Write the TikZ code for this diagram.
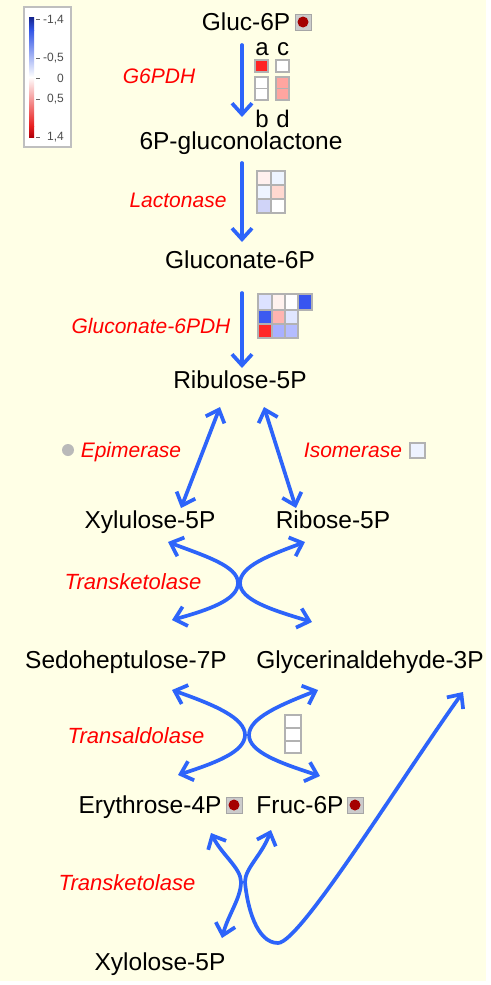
\documentclass[tikz,border=0pt]{standalone}
\usepackage{fontspec}
\setmainfont{Liberation Sans}
\usetikzlibrary{arrows.meta}
\definecolor{bgy}{RGB}{255,255,230}
\definecolor{arrb}{RGB}{45,100,250}
\definecolor{dred}{RGB}{165,0,0}
\definecolor{cellg}{RGB}{178,178,178}
\newcommand\hmcell[5]{\filldraw[fill=#5,draw=cellg,line width=1.4pt] (#1,#2) rectangle (#3,#4);}
\begin{document}
\begin{tikzpicture}[x=1pt,y=-1pt,
  >={Straight Barb[length=11pt,width=20pt]},
  met/.style={font=\fontsize{24.5}{28}\selectfont,inner sep=0pt,text height=17pt,text depth=0pt},
  enz/.style={font=\fontsize{21}{25}\selectfont\itshape,text=red,inner sep=0pt,text height=15pt,text depth=0pt},
  enzb/.style={enz,font=\fontsize{22}{26}\selectfont\itshape},
  flow/.style={draw=arrb,line width=3.7pt,line cap=round},
  metsq/.style={draw=gray!70,fill=gray!40,line width=1pt,minimum size=16pt,inner sep=0pt},
  letr/.style={font=\fontsize{24}{28}\selectfont,inner sep=0pt,anchor=base},
  legl/.style={font=\fontsize{12}{14}\selectfont,text=black!70,inner sep=0pt,anchor=east}]
\useasboundingbox (0,0) rectangle (490,985);
\fill[white] (0,0) rectangle (490,985);
\fill[bgy] (0,0) rectangle (486,981);

% legend
\filldraw[fill=white,draw=gray!50,line width=1.2pt] (24,7) rectangle (71,147);
\shade[top color={rgb,255:red,20;green,35;blue,140},bottom color={rgb,255:red,50;green,85;blue,230}] (29,17) rectangle (34,30);
\shade[top color={rgb,255:red,50;green,85;blue,230},bottom color=white] (29,30) rectangle (34,77);
\shade[top color=white,bottom color={rgb,255:red,232;green,30;blue,30}] (29,77) rectangle (34,126);
\shade[top color={rgb,255:red,232;green,30;blue,30},bottom color={rgb,255:red,175;green,0;blue,10}] (29,126) rectangle (34,137);
\foreach \yy in {19,58,78,99,137} {\draw[black!60,line width=0.8pt] (36,\yy) -- (40,\yy);}
\node[legl] (lg1) at (64,20) {-1,4};
\node[legl] (lg2) at (64,58) {-0,5};
\node[legl] (lg3) at (64,78) {0};
\node[legl] (lg4) at (64,99) {0,5};
\node[legl] (lg5) at (64,137) {1,4};

% metabolites
\node[met] (gluc) at (246,22) {Gluc-6P};
\node[met] (glac) at (241,141) {6P-gluconolactone};
\node[met] (gnt) at (240,260) {Gluconate-6P};
\node[met] (ru5p) at (240,380) {Ribulose-5P};
\node[met] (xu5p) at (150,520) {Xylulose-5P};
\node[met] (r5p) at (333,520) {Ribose-5P};
\node[met] (s7p) at (126,660) {Sedoheptulose-7P};
\node[met] (gap) at (370,660) {Glycerinaldehyde-3P};
\node[met] (e4p) at (150,805) {Erythrose-4P};
\node[met] (f6p) at (300,805) {Fruc-6P};
\node[met] (xl5p) at (160,962) {Xylolose-5P};

% enzymes
\node[enz] (e1) at (159,76) {G6PDH};
\node[enz] (e2) at (178,200) {Lactonase};
\node[enz] (e3) at (151,326) {Gluconate-6PDH};
\node[enz] (e4) at (131,450) {Epimerase};
\node[enz] (e5) at (353,450) {Isomerase};
\node[enzb] (e6) at (133,582) {Transketolase};
\node[enzb] (e7) at (136,736) {Transaldolase};
\node[enzb] (e8) at (127,883) {Transketolase};

% markers
\node[metsq] (mg) at (303,22) {};
\fill[dred] (mg.center) circle (5.5);
\node[metsq] (me) at (234,805) {};
\fill[dred] (me.center) circle (5.5);
\node[metsq] (mf) at (355,805) {};
\fill[dred] (mf.center) circle (5.5);
\node[circle,fill=gray!55,minimum size=12pt,inner sep=0pt] (edot) at (68,450) {};
\node[draw=cellg,fill={rgb,255:red,238;green,243;blue,255},line width=2pt,minimum size=15pt,inner sep=0pt] (isq) at (417,450) {};

% heatmap 1 (G6PDH)
\node[letr] (la) at (262,55) {a};
\node[letr] (lc) at (283,55) {c};
\node[letr] (lb) at (262,127) {b};
\node[letr] (ld) at (283,127) {d};
\hmcell{255}{60}{268}{72}{{rgb,255:red,255;green,35;blue,35}}
\hmcell{276}{60}{289}{72}{white}
\hmcell{255}{77}{268}{88.5}{white}
\hmcell{255}{88.5}{268}{100}{white}
\hmcell{276}{77}{289}{88.5}{{rgb,255:red,255;green,165;blue,160}}
\hmcell{276}{88.5}{289}{100}{{rgb,255:red,255;green,165;blue,160}}
\draw[cellg,line width=2.2pt] (255,60) rectangle (268,72);
\draw[cellg,line width=2.2pt] (276,60) rectangle (289,72);
\draw[cellg,line width=2.2pt] (255,77) rectangle (268,100);
\draw[cellg,line width=2.2pt] (276,77) rectangle (289,100);

% heatmap 2 (Lactonase)
\hmcell{257}{171}{271}{185}{{rgb,255:red,255;green,240;blue,238}}
\hmcell{271}{171}{285}{185}{{rgb,255:red,238;green,244;blue,255}}
\hmcell{257}{185}{271}{199}{{rgb,255:red,238;green,244;blue,255}}
\hmcell{271}{185}{285}{199}{{rgb,255:red,255;green,216;blue,208}}
\hmcell{257}{199}{271}{213}{{rgb,255:red,208;green,212;blue,248}}
\hmcell{271}{199}{285}{213}{white}
\draw[cellg,line width=2.5pt] (257,171) rectangle (285,213);

% heatmap 3 (Gluconate-6PDH)
\hmcell{258}{294}{272}{310}{{rgb,255:red,221;green,226;blue,255}}
\hmcell{272}{294}{285}{310}{{rgb,255:red,255;green,242;blue,238}}
\hmcell{285}{294}{298}{310}{white}
\hmcell{298}{294}{312}{310}{{rgb,255:red,55;green,85;blue,240}}
\hmcell{258}{310}{272}{324}{{rgb,255:red,60;green,90;blue,240}}
\hmcell{272}{310}{285}{324}{{rgb,255:red,255;green,180;blue,176}}
\hmcell{285}{310}{298}{324}{{rgb,255:red,224;green,230;blue,255}}
\hmcell{258}{324}{272}{338}{{rgb,255:red,255;green,40;blue,40}}
\hmcell{272}{324}{285}{338}{{rgb,255:red,168;green,176;blue,255}}
\hmcell{285}{324}{298}{338}{{rgb,255:red,180;green,188;blue,255}}
\draw[cellg,line width=2.5pt] (258,294) -- (312,294) -- (312,310) -- (298,310) -- (298,338) -- (258,338) -- cycle;

% heatmap 4 (Transaldolase)
\hmcell{285}{715}{301}{728}{white}
\hmcell{285}{728}{301}{741}{white}
\hmcell{285}{741}{301}{753}{white}
\draw[cellg,line width=2.5pt] (285,715) rectangle (301,753);

% connector end points
\coordinate (a1s) at (242,45);
\coordinate (a1e) at (242,117);
\coordinate (a2s) at (242,163);
\coordinate (a2e) at (242,242);
\coordinate (a3s) at (242,293);
\coordinate (a3e) at (242,368);
\coordinate (epT) at (220,407);
\coordinate (epB) at (181,508);
\coordinate (isT) at (264,407);
\coordinate (isB) at (296,508);
\coordinate (tkTL) at (168,542);
\coordinate (tkTR) at (305,542);
\coordinate (tkBL) at (172,620);
\coordinate (tkBR) at (312,622);
\coordinate (taTL) at (172,690);
\coordinate (taTR) at (318,690);
\coordinate (taBL) at (178,775);
\coordinate (taBR) at (320,776);
\coordinate (tbE) at (211,833);
\coordinate (tbF) at (271,830);
\coordinate (tbX) at (222,938);
\coordinate (tbG) at (463,692);

% straight reactions
\draw[flow,->] (a1s) -- (a1e);
\draw[flow,->] (a2s) -- (a2e);
\draw[flow,->] (a3s) -- (a3e);
\draw[flow,<->] (epT) -- (epB);
\draw[flow,<->] (isT) -- (isB);

% transketolase (top)
\draw[flow,<->] (tkTL) .. controls (205,556) and (238,566) .. (238,583) .. controls (238,600) and (208,610) .. (tkBL);
\draw[flow,<->] (tkTR) .. controls (270,555) and (240,566) .. (240,583) .. controls (240,600) and (272,610) .. (tkBR);

% transaldolase
\draw[flow,<->] (taTL) .. controls (215,705) and (245,718) .. (245,735) .. controls (245,752) and (215,763) .. (taBL);
\draw[flow,<->] (taTR) .. controls (280,705) and (249,718) .. (249,735) .. controls (249,752) and (280,763) .. (taBR);

% transketolase (bottom)
\draw[flow,<->] (tbE) .. controls (222,855) and (241,868) .. (241,882) .. controls (241,898) and (228,915) .. (tbX);
\draw[flow,<->] (tbF) .. controls (262,855) and (245,868) .. (245,882) .. controls (247,905) and (256,943) .. (278,943) .. controls (300,943) and (400,780) .. (tbG);
\end{tikzpicture}
\end{document}
